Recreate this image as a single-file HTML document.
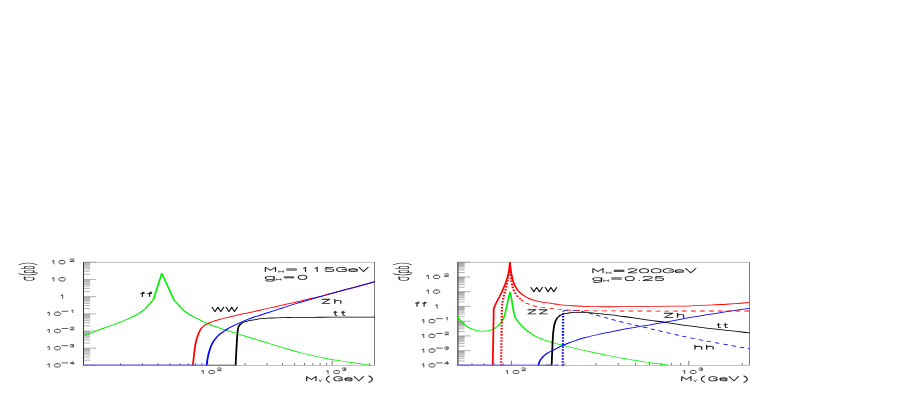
<!DOCTYPE html>
<html><head><meta charset="utf-8"><title>cross sections</title>
<style>html,body{margin:0;padding:0;background:#fff;font-family:"Liberation Sans",sans-serif;overflow:hidden;}svg{display:block;}text{font-family:"Liberation Sans",sans-serif;}</style>
</head><body>
<svg width="899" height="409" viewBox="0 0 899 409">
<rect x="0" y="0" width="899" height="409" fill="#fff"/>
<g transform="scale(1,0.4500)">
<path d="M83.50 812.00 H96.20 M83.50 800.49 H90.20 M83.50 793.76 H90.20 M83.50 788.99 H90.20 M83.50 785.28 H90.20 M83.50 782.26 H90.20 M83.50 779.70 H90.20 M83.50 777.48 H90.20 M83.50 775.53 H90.20 M83.50 773.78 H96.20 M83.50 762.27 H90.20 M83.50 755.54 H90.20 M83.50 750.77 H90.20 M83.50 747.06 H90.20 M83.50 744.04 H90.20 M83.50 741.48 H90.20 M83.50 739.26 H90.20 M83.50 737.30 H90.20 M83.50 735.56 H96.20 M83.50 724.05 H90.20 M83.50 717.32 H90.20 M83.50 712.54 H90.20 M83.50 708.84 H90.20 M83.50 705.81 H90.20 M83.50 703.25 H90.20 M83.50 701.04 H90.20 M83.50 699.08 H90.20 M83.50 697.33 H96.20 M83.50 685.83 H90.20 M83.50 679.10 H90.20 M83.50 674.32 H90.20 M83.50 670.62 H90.20 M83.50 667.59 H90.20 M83.50 665.03 H90.20 M83.50 662.82 H90.20 M83.50 660.86 H90.20 M83.50 659.11 H96.20 M83.50 647.61 H90.20 M83.50 640.87 H90.20 M83.50 636.10 H90.20 M83.50 632.39 H90.20 M83.50 629.37 H90.20 M83.50 626.81 H90.20 M83.50 624.59 H90.20 M83.50 622.64 H90.20 M83.50 620.89 H96.20 M83.50 609.38 H90.20 M83.50 602.65 H90.20 M83.50 597.88 H90.20 M83.50 594.17 H90.20 M83.50 591.15 H90.20 M83.50 588.59 H90.20 M83.50 586.37 H90.20 M83.50 584.42 H90.20 M83.50 582.67 H96.20 " fill="none" stroke="#555" stroke-width="0.62"/>
<path d="M207.60 812.00 V801.78 M332.20 812.00 V801.78 M120.51 812.00 V806.67 M142.45 812.00 V806.67 M158.02 812.00 V806.67 M170.09 812.00 V806.67 M179.96 812.00 V806.67 M188.30 812.00 V806.67 M195.53 812.00 V806.67 M201.90 812.00 V806.67 M245.11 812.00 V806.67 M267.05 812.00 V806.67 M282.62 812.00 V806.67 M294.69 812.00 V806.67 M304.56 812.00 V806.67 M312.90 812.00 V806.67 M320.13 812.00 V806.67 M326.50 812.00 V806.67 M369.71 812.00 V806.67 " fill="none" stroke="#222" stroke-width="0.85"/>
<rect x="83.50" y="582.67" width="291.00" height="229.33" fill="none" stroke="#7c7c7c" stroke-width="1.0"/>
<path d="M83.50 582.67 V812.00" fill="none" stroke="#1c1c1c" stroke-width="1.0"/>
<path d="M235.60 812.89 C235.93 798.22 235.93 793.93 236.60 768.89 C237.27 743.85 237.00 751.70 237.60 737.78 C238.20 723.85 238.13 730.67 238.40 727.11 L238.40 727.11 C238.87 725.48 238.60 725.26 239.80 722.22 C241.00 719.19 240.27 720.37 242.00 718.00 C243.73 715.63 242.67 716.89 245.00 715.11 C247.33 713.33 246.00 714.15 249.00 712.67 C252.00 711.19 249.67 712.15 254.00 710.67 C258.33 709.19 256.00 709.56 262.00 708.22 C268.00 706.89 262.67 707.56 272.00 706.67 C281.33 705.78 276.67 706.07 290.00 705.56 C303.33 705.04 295.33 705.33 312.00 705.11 C328.67 704.89 319.00 704.96 340.00 704.89 C361.00 704.81 363.33 704.89 375.00 704.89" fill="none" stroke="#000" stroke-width="1.80" stroke-linejoin="round" stroke-linecap="butt"/>
<path d="M83.50 746.44 C86.33 744.07 85.93 744.52 92.00 739.33 C98.07 734.15 95.03 736.37 101.70 730.89 C108.37 725.41 105.33 728.37 112.00 722.89 C118.67 717.41 115.67 719.93 121.70 714.44 C127.73 708.96 124.67 712.07 130.10 706.44 C135.53 700.81 132.97 704.22 138.00 697.56 C143.03 690.89 142.80 690.15 145.20 686.44 L145.20 686.44 L153.40 665.78 L153.40 665.78 L161.80 607.56 L161.80 607.56 L174.30 668.22 L174.30 668.22 L183.30 689.33 L183.30 689.33 C185.20 692.37 184.77 692.67 189.00 698.44 C193.23 704.22 191.67 701.78 196.00 706.67 C200.33 711.56 197.83 708.74 202.00 713.11 C206.17 717.48 204.17 715.70 208.50 719.78 C212.83 723.85 210.57 721.63 215.00 725.33 C219.43 729.04 216.80 727.19 221.80 730.89 C226.80 734.59 222.27 731.11 230.00 736.44 C237.73 741.78 234.53 739.70 245.00 746.89 C255.47 754.07 250.40 750.52 261.40 758.00 C272.40 765.48 266.90 761.93 278.00 769.33 C289.10 776.74 283.70 773.56 294.70 780.22 C305.70 786.89 299.87 783.63 311.00 789.33 C322.13 795.04 318.10 793.04 328.10 797.33 C338.10 801.63 332.67 799.26 341.00 802.22 C349.33 805.19 346.10 803.93 353.10 806.22 C360.10 808.52 356.20 807.26 362.00 809.11 C367.80 810.96 367.67 810.89 370.50 811.78" fill="none" stroke="#00ee00" stroke-width="1.70" stroke-linejoin="round" stroke-linecap="butt"/>
<path d="M192.80 812.89 C193.17 805.63 193.13 805.48 193.90 791.11 C194.67 776.74 194.30 781.26 195.10 769.78 C195.90 758.30 195.47 764.22 196.30 756.67 C197.13 749.11 196.63 753.41 197.60 747.11 C198.57 740.81 198.07 743.19 199.20 737.78 C200.33 732.37 199.57 735.19 201.00 730.89 C202.43 726.59 201.30 728.74 203.50 724.89 C205.70 721.04 204.60 722.67 207.60 719.33 C210.60 716.00 208.87 717.78 212.50 714.89 C216.13 712.00 213.33 713.85 218.50 710.67 C223.67 707.48 219.50 709.85 228.00 705.33 C236.50 700.81 232.87 702.74 244.00 697.11 C255.13 691.48 250.07 694.07 261.40 688.44 C272.73 682.81 266.90 685.78 278.00 680.22 C289.10 674.67 284.70 676.89 294.70 671.78 C304.70 666.67 299.10 669.56 308.00 664.89 C316.90 660.22 310.73 663.78 321.40 657.78 C332.07 651.78 327.80 654.07 340.00 646.89 C352.20 639.70 346.33 643.19 358.00 636.22 C369.67 629.26 369.33 629.41 375.00 626.00" fill="none" stroke="#ff0000" stroke-width="1.80" stroke-linejoin="round" stroke-linecap="butt"/>
<path d="M206.60 812.89 C207.00 806.74 206.90 805.11 207.80 794.44 C208.70 783.78 208.30 788.81 209.30 780.89 C210.30 772.96 209.67 777.04 210.80 770.67 C211.93 764.30 211.20 767.63 212.70 761.78 C214.20 755.93 213.37 758.59 215.30 753.11 C217.23 747.63 216.33 749.93 218.50 745.33 C220.67 740.74 219.57 743.04 221.80 739.33 C224.03 735.63 222.47 738.00 225.20 734.22 C227.93 730.44 225.07 733.70 230.00 728.00 C234.93 722.30 232.87 724.15 240.00 717.11 C247.13 710.07 244.73 712.37 251.40 706.89 C258.07 701.41 253.90 705.11 260.00 700.67 C266.10 696.22 262.37 698.89 269.70 693.56 C277.03 688.22 273.67 690.67 282.00 684.67 C290.33 678.67 286.03 681.41 294.70 675.56 C303.37 669.70 299.10 672.74 308.00 667.11 C316.90 661.48 310.73 665.33 321.40 658.67 C332.07 652.00 327.80 654.59 340.00 647.11 C352.20 639.63 346.33 643.26 358.00 636.22 C369.67 629.19 369.33 629.41 375.00 626.00" fill="none" stroke="#0000ff" stroke-width="1.80" stroke-linejoin="round" stroke-linecap="butt"/>
<path d="M457.90 812.00 H470.60 M457.90 802.14 H464.60 M457.90 796.37 H464.60 M457.90 792.28 H464.60 M457.90 789.10 H464.60 M457.90 786.51 H464.60 M457.90 784.31 H464.60 M457.90 782.41 H464.60 M457.90 780.74 H464.60 M457.90 779.24 H470.60 M457.90 769.38 H464.60 M457.90 763.61 H464.60 M457.90 759.51 H464.60 M457.90 756.34 H464.60 M457.90 753.74 H464.60 M457.90 751.55 H464.60 M457.90 749.65 H464.60 M457.90 747.98 H464.60 M457.90 746.48 H470.60 M457.90 736.61 H464.60 M457.90 730.84 H464.60 M457.90 726.75 H464.60 M457.90 723.58 H464.60 M457.90 720.98 H464.60 M457.90 718.79 H464.60 M457.90 716.89 H464.60 M457.90 715.21 H464.60 M457.90 713.71 H470.60 M457.90 703.85 H464.60 M457.90 698.08 H464.60 M457.90 693.99 H464.60 M457.90 690.81 H464.60 M457.90 688.22 H464.60 M457.90 686.03 H464.60 M457.90 684.13 H464.60 M457.90 682.45 H464.60 M457.90 680.95 H470.60 M457.90 671.09 H464.60 M457.90 665.32 H464.60 M457.90 661.23 H464.60 M457.90 658.05 H464.60 M457.90 655.46 H464.60 M457.90 653.27 H464.60 M457.90 651.37 H464.60 M457.90 649.69 H464.60 M457.90 648.19 H470.60 M457.90 638.33 H464.60 M457.90 632.56 H464.60 M457.90 628.47 H464.60 M457.90 625.29 H464.60 M457.90 622.70 H464.60 M457.90 620.50 H464.60 M457.90 618.60 H464.60 M457.90 616.93 H464.60 M457.90 615.43 H470.60 M457.90 605.57 H464.60 M457.90 599.80 H464.60 M457.90 595.70 H464.60 M457.90 592.53 H464.60 M457.90 589.93 H464.60 M457.90 587.74 H464.60 M457.90 585.84 H464.60 M457.90 584.17 H464.60 M457.90 582.67 H470.60 " fill="none" stroke="#555" stroke-width="0.62"/>
<path d="M511.40 812.00 V801.78 M688.80 812.00 V801.78 M472.04 812.00 V806.67 M483.92 812.00 V806.67 M494.21 812.00 V806.67 M503.28 812.00 V806.67 M564.80 812.00 V806.67 M596.04 812.00 V806.67 M618.21 812.00 V806.67 M635.40 812.00 V806.67 M649.44 812.00 V806.67 M661.32 812.00 V806.67 M671.61 812.00 V806.67 M680.68 812.00 V806.67 M742.20 812.00 V806.67 " fill="none" stroke="#222" stroke-width="0.85"/>
<rect x="457.90" y="582.67" width="291.60" height="229.33" fill="none" stroke="#7c7c7c" stroke-width="1.0"/>
<path d="M457.90 582.67 V812.00" fill="none" stroke="#303030" stroke-width="1.0"/>
<path d="M457.20 702.44 C458.13 705.33 457.80 705.19 460.00 711.11 C462.20 717.04 461.13 715.04 463.80 720.22 C466.47 725.41 465.07 722.81 468.00 726.67 C470.93 730.52 469.43 729.04 472.60 731.78 C475.77 734.52 474.07 733.48 477.50 734.89 C480.93 736.30 479.57 735.93 482.90 736.00 C486.23 736.07 484.57 736.22 487.50 735.11 C490.43 734.00 489.03 734.89 491.70 732.67 C494.37 730.44 493.07 732.00 495.50 728.44 C497.93 724.89 496.90 726.74 499.00 722.00 C501.10 717.26 500.10 720.22 501.80 714.22 C503.50 708.22 502.60 713.93 504.10 704.00 C505.60 694.07 504.93 697.26 506.30 684.44 C507.67 671.63 507.57 671.85 508.20 665.56 L508.20 665.56 L510.00 648.89 L510.00 648.89 L511.70 665.56 L511.70 665.56 C512.13 671.85 512.03 672.74 513.00 684.44 C513.97 696.15 513.40 692.15 514.60 700.67 C515.80 709.19 514.80 703.56 516.60 710.00 C518.40 716.44 517.07 712.74 520.00 720.00 C522.93 727.26 522.07 725.26 525.40 731.78 C528.73 738.30 526.60 734.44 530.00 739.56 C533.40 744.67 532.10 742.89 535.60 747.11 C539.10 751.33 537.07 749.11 540.50 752.22 C543.93 755.33 541.07 752.96 545.90 756.44 C550.73 759.93 549.30 759.04 555.00 762.67 C560.70 766.30 555.33 763.04 563.00 767.33 C570.67 771.63 567.70 770.15 578.00 775.56 C588.30 780.96 583.90 778.74 593.90 783.56 C603.90 788.37 598.20 785.78 608.00 790.00 C617.80 794.22 614.63 792.74 623.30 796.22 C631.97 799.70 626.77 797.70 634.00 800.44 C641.23 803.19 637.67 801.93 645.00 804.44 C652.33 806.96 648.50 805.85 656.00 808.00 C663.50 810.15 663.67 809.93 667.50 810.89" fill="none" stroke="#00ee00" stroke-width="1.70" stroke-linejoin="round" stroke-linecap="butt"/>
<path d="M551.60 812.89 C551.83 801.19 551.87 799.11 552.30 777.78 C552.73 756.44 552.43 764.44 552.90 748.89 C553.37 733.33 553.07 741.19 553.70 731.11 C554.33 721.04 553.87 725.85 554.80 718.67 C555.73 711.48 555.20 714.59 556.50 709.56 C557.80 704.52 556.87 707.11 558.70 703.56 C560.53 700.00 559.40 701.33 562.00 698.89 C564.60 696.44 563.17 697.63 566.50 696.22 C569.83 694.81 568.07 695.33 572.00 694.67 C575.93 694.00 573.63 694.22 578.30 694.22 C582.97 694.22 580.80 694.15 586.00 694.67 C591.20 695.19 586.57 694.30 593.90 695.78 C601.23 697.26 598.20 696.59 608.00 699.11 C617.80 701.63 610.97 699.63 623.30 703.33 C635.63 707.04 630.47 705.70 645.00 710.22 C659.53 714.74 650.63 711.85 666.90 716.89 C683.17 721.93 675.87 720.07 693.80 725.33 C711.73 730.59 702.20 727.93 720.70 732.67 C739.20 737.41 739.77 737.26 749.30 739.56" fill="none" stroke="#000" stroke-width="1.80" stroke-linejoin="round" stroke-linecap="butt"/>
<path d="M562.70 812.89 L563.20 691.11" fill="none" stroke="#0000ff" stroke-width="2.20" stroke-linejoin="round" stroke-linecap="butt" stroke-dasharray="3.4 3.3"/>
<path d="M563.50 690.00 C566.33 689.93 566.43 689.33 572.00 689.78 C577.57 690.22 573.87 688.96 580.20 691.33 C586.53 693.70 583.17 692.37 591.00 696.89 C598.83 701.41 592.93 698.44 603.70 704.89 C614.47 711.33 609.53 708.67 623.30 716.22 C637.07 723.78 630.47 719.93 645.00 727.56 C659.53 735.19 650.63 730.89 666.90 739.11 C683.17 747.33 675.87 744.07 693.80 752.22 C711.73 760.37 702.20 756.00 720.70 763.56 C739.20 771.11 739.77 771.11 749.30 774.89" fill="none" stroke="#0000ff" stroke-width="1.70" stroke-linejoin="round" stroke-linecap="butt" stroke-dasharray="4.7 4.2"/>
<path d="M538.40 812.89 C538.80 809.70 538.57 808.67 539.60 803.33 C540.63 798.00 540.17 800.81 541.50 796.89 C542.83 792.96 542.13 794.81 543.60 791.56 C545.07 788.30 544.10 790.00 545.90 787.11 C547.70 784.22 546.70 785.70 549.00 782.89 C551.30 780.07 550.13 781.63 552.80 778.67 C555.47 775.70 553.60 777.78 557.00 774.00 C560.40 770.22 557.67 772.37 563.00 767.33 C568.33 762.30 565.97 764.37 573.00 758.89 C580.03 753.41 575.77 756.07 584.10 750.89 C592.43 745.70 588.20 748.22 598.00 743.33 C607.80 738.44 603.17 740.81 613.50 736.22 C623.83 731.63 618.50 733.78 629.00 729.56 C639.50 725.33 632.37 728.37 645.00 723.56 C657.63 718.74 650.63 721.56 666.90 715.11 C683.17 708.67 675.87 711.04 693.80 704.22 C711.73 697.41 702.20 701.04 720.70 694.67 C739.20 688.30 739.77 688.30 749.30 685.11" fill="none" stroke="#0000ff" stroke-width="1.80" stroke-linejoin="round" stroke-linecap="butt"/>
<path d="M501.10 812.89 L501.90 687.78 L501.90 687.78 C502.07 682.96 501.83 682.59 502.40 673.33 C502.97 664.07 502.73 668.44 503.60 660.00 C504.47 651.56 504.03 656.15 505.00 648.00 C505.97 639.85 505.63 644.15 506.50 635.56 C507.37 626.96 506.90 631.48 507.60 622.22 C508.30 612.96 507.83 618.15 508.60 607.78 C509.37 597.41 509.47 596.67 509.90 591.11 L509.90 591.11 C510.23 598.52 510.30 600.74 510.90 613.33 C511.50 625.93 511.13 620.74 511.70 628.89 C512.27 637.04 511.90 632.22 512.60 637.78 C513.30 643.33 512.90 640.81 513.80 645.56 C514.70 650.30 514.20 648.00 515.30 652.00 C516.40 656.00 515.93 654.37 517.10 657.56 C518.27 660.74 517.67 659.11 518.80 661.56 C519.93 664.00 519.93 663.78 520.50 664.89" fill="none" stroke="#ff0000" stroke-width="2.20" stroke-linejoin="round" stroke-linecap="butt" stroke-dasharray="3.4 3.3"/>
<path d="M521.00 665.78 C521.93 667.33 521.47 667.33 523.80 670.44 C526.13 673.56 524.13 671.70 528.00 675.11 C531.87 678.52 530.43 677.93 535.40 680.67 C540.37 683.41 538.70 682.00 542.90 683.33 C547.10 684.67 543.97 683.70 548.00 684.67 C552.03 685.63 549.47 684.96 555.00 686.22 C560.53 687.48 556.27 687.19 564.60 688.44 C572.93 689.70 566.97 689.19 580.00 690.00 C593.03 690.81 582.03 690.52 603.70 690.89 C625.37 691.26 612.90 691.04 645.00 691.11 C677.10 691.19 665.23 691.11 700.00 691.11 C734.77 691.11 732.87 691.11 749.30 691.11" fill="none" stroke="#ff0000" stroke-width="1.70" stroke-linejoin="round" stroke-linecap="butt" stroke-dasharray="4.7 4.2"/>
<path d="M492.70 812.89 C492.90 790.07 492.97 786.59 493.30 744.44 C493.63 702.30 493.57 705.78 493.70 686.44 L493.70 686.44 C494.47 682.37 494.37 682.00 496.00 674.22 C497.63 666.44 496.73 671.26 498.60 663.11 C500.47 654.96 499.70 658.81 501.60 649.78 C503.50 640.74 502.73 644.44 504.30 636.00 C505.87 627.56 505.17 631.56 506.30 624.44 C507.43 617.33 506.87 621.33 507.70 614.67 C508.53 608.00 508.20 611.56 508.80 604.44 C509.40 597.33 509.13 600.59 509.50 593.33 C509.87 586.07 509.77 586.22 509.90 582.67 L509.90 582.67 C510.07 586.22 510.00 586.07 510.40 593.33 C510.80 600.59 510.57 597.33 511.10 604.44 C511.63 611.56 511.37 608.37 512.00 614.67 C512.63 620.96 512.17 617.41 513.00 623.33 C513.83 629.26 513.40 626.89 514.50 632.44 C515.60 638.00 514.93 635.11 516.30 640.00 C517.67 644.89 516.93 642.81 518.60 647.11 C520.27 651.41 519.37 649.33 521.30 652.89 C523.23 656.44 522.18 654.70 524.40 657.78 C526.62 660.85 525.58 659.59 527.95 662.11 C530.32 664.63 529.02 663.37 531.50 665.33 C533.98 667.30 531.60 665.85 535.40 668.00 C539.20 670.15 538.70 670.07 542.90 671.78 C547.10 673.48 543.97 671.85 548.00 673.11 C552.03 674.37 549.47 673.85 555.00 675.56 C560.53 677.26 556.93 676.74 564.60 678.22 C572.27 679.70 568.23 678.96 578.00 680.00 C587.77 681.04 579.90 680.81 593.90 681.33 C607.90 681.85 602.97 681.70 620.00 681.56 C637.03 681.41 628.33 681.26 645.00 680.89 C661.67 680.52 653.73 680.96 670.00 680.44 C686.27 679.93 676.90 680.59 693.80 679.33 C710.70 678.07 706.97 678.22 720.70 676.67 C734.43 675.11 725.47 676.22 735.00 674.67 C744.53 673.11 744.53 672.89 749.30 672.00" fill="none" stroke="#ff0000" stroke-width="1.80" stroke-linejoin="round" stroke-linecap="butt"/>
</g>
<g transform="scale(1,0.6500)">
<path d="M 47.60 560.58 L 49.25 559.40 L 49.25 564.75 M 57.45 559.40 C 59.34 559.40 60.60 560.47 60.60 562.08 C 60.60 563.68 59.34 564.75 57.45 564.75 C 55.56 564.75 54.30 563.68 54.30 562.08 C 54.30 560.47 55.56 559.40 57.45 559.40" fill="none" stroke="#1a1a1a" stroke-width="0.95" stroke-linecap="round" stroke-linejoin="round"/>
<path d="M 61.96 558.31 L 67.84 558.31 M 73.15 560.33 L 73.15 556.28 L 70.16 559.12 L 74.14 559.12" fill="none" stroke="#1a1a1a" stroke-width="0.85" stroke-linecap="round" stroke-linejoin="round"/>
<path d="M 47.60 534.12 L 49.25 532.94 L 49.25 538.29 M 57.45 532.94 C 59.34 532.94 60.60 534.01 60.60 535.62 C 60.60 537.22 59.34 538.29 57.45 538.29 C 55.56 538.29 54.30 537.22 54.30 535.62 C 54.30 534.01 55.56 532.94 57.45 532.94" fill="none" stroke="#1a1a1a" stroke-width="0.95" stroke-linecap="round" stroke-linejoin="round"/>
<path d="M 61.96 531.85 L 67.84 531.85 M 70.16 530.55 C 70.56 530.02 71.27 529.82 72.15 529.82 C 73.34 529.82 74.02 530.23 74.02 530.79 C 74.02 531.36 73.34 531.72 71.83 531.72 C 73.42 531.72 74.14 532.17 74.14 532.78 C 74.14 533.47 73.34 533.87 72.15 533.87 C 71.15 533.87 70.48 533.63 70.16 533.06" fill="none" stroke="#1a1a1a" stroke-width="0.85" stroke-linecap="round" stroke-linejoin="round"/>
<path d="M 47.60 507.65 L 49.25 506.48 L 49.25 511.83 M 57.45 506.48 C 59.34 506.48 60.60 507.55 60.60 509.15 C 60.60 510.76 59.34 511.83 57.45 511.83 C 55.56 511.83 54.30 510.76 54.30 509.15 C 54.30 507.55 55.56 506.48 57.45 506.48" fill="none" stroke="#1a1a1a" stroke-width="0.95" stroke-linecap="round" stroke-linejoin="round"/>
<path d="M 61.96 505.38 L 67.84 505.38 M 70.16 504.33 C 70.24 503.68 70.96 503.36 72.15 503.36 C 73.34 503.36 74.14 503.76 74.14 504.45 C 74.14 505.14 73.34 505.55 72.15 506.11 C 70.96 506.68 70.16 507.01 70.16 507.41 L 74.14 507.41" fill="none" stroke="#1a1a1a" stroke-width="0.85" stroke-linecap="round" stroke-linejoin="round"/>
<path d="M 47.60 481.19 L 49.25 480.01 L 49.25 485.37 M 57.45 480.01 C 59.34 480.01 60.60 481.09 60.60 482.69 C 60.60 484.30 59.34 485.37 57.45 485.37 C 55.56 485.37 54.30 484.30 54.30 482.69 C 54.30 481.09 55.56 480.01 57.45 480.01" fill="none" stroke="#1a1a1a" stroke-width="0.95" stroke-linecap="round" stroke-linejoin="round"/>
<path d="M 61.96 478.92 L 67.84 478.92 M 71.56 477.79 L 72.82 476.90 L 72.82 480.95" fill="none" stroke="#1a1a1a" stroke-width="0.85" stroke-linecap="round" stroke-linejoin="round"/>
<path d="M 61.00 454.73 L 62.65 453.55 L 62.65 458.91" fill="none" stroke="#1a1a1a" stroke-width="0.95" stroke-linecap="round" stroke-linejoin="round"/>
<path d="M 52.20 428.27 L 53.85 427.09 L 53.85 432.45 M 62.05 427.09 C 64.00 427.09 65.30 428.16 65.30 429.77 C 65.30 431.38 64.00 432.45 62.05 432.45 C 60.10 432.45 58.80 431.38 58.80 429.77 C 58.80 428.16 60.10 427.09 62.05 427.09" fill="none" stroke="#1a1a1a" stroke-width="0.95" stroke-linecap="round" stroke-linejoin="round"/>
<path d="M 52.20 401.81 L 53.85 400.63 L 53.85 405.99 M 62.05 400.63 C 64.00 400.63 65.30 401.70 65.30 403.31 C 65.30 404.91 64.00 405.99 62.05 405.99 C 60.10 405.99 58.80 404.91 58.80 403.31 C 58.80 401.70 60.10 400.63 62.05 400.63" fill="none" stroke="#1a1a1a" stroke-width="0.95" stroke-linecap="round" stroke-linejoin="round"/>
<path d="M 69.86 399.41 C 69.94 398.76 70.72 398.44 72.00 398.44 C 73.28 398.44 74.14 398.84 74.14 399.53 C 74.14 400.22 73.28 400.62 72.00 401.19 C 70.72 401.76 69.86 402.08 69.86 402.49 L 74.14 402.49" fill="none" stroke="#1a1a1a" stroke-width="0.85" stroke-linecap="round" stroke-linejoin="round"/>
<path d="M 422.10 560.58 L 423.75 559.40 L 423.75 564.75 M 431.95 559.40 C 433.84 559.40 435.10 560.47 435.10 562.08 C 435.10 563.68 433.84 564.75 431.95 564.75 C 430.06 564.75 428.80 563.68 428.80 562.08 C 428.80 560.47 430.06 559.40 431.95 559.40" fill="none" stroke="#1a1a1a" stroke-width="0.95" stroke-linecap="round" stroke-linejoin="round"/>
<path d="M 436.46 558.31 L 442.34 558.31 M 447.65 560.33 L 447.65 556.28 L 444.66 559.12 L 448.64 559.12" fill="none" stroke="#1a1a1a" stroke-width="0.85" stroke-linecap="round" stroke-linejoin="round"/>
<path d="M 422.10 537.90 L 423.75 536.72 L 423.75 542.07 M 431.95 536.72 C 433.84 536.72 435.10 537.79 435.10 539.40 C 435.10 541.00 433.84 542.07 431.95 542.07 C 430.06 542.07 428.80 541.00 428.80 539.40 C 428.80 537.79 430.06 536.72 431.95 536.72" fill="none" stroke="#1a1a1a" stroke-width="0.95" stroke-linecap="round" stroke-linejoin="round"/>
<path d="M 436.46 535.63 L 442.34 535.63 M 444.66 534.33 C 445.06 533.80 445.77 533.60 446.65 533.60 C 447.84 533.60 448.52 534.01 448.52 534.57 C 448.52 535.14 447.84 535.50 446.33 535.50 C 447.92 535.50 448.64 535.95 448.64 536.56 C 448.64 537.25 447.84 537.65 446.65 537.65 C 445.65 537.65 444.98 537.41 444.66 536.84" fill="none" stroke="#1a1a1a" stroke-width="0.85" stroke-linecap="round" stroke-linejoin="round"/>
<path d="M 422.10 515.21 L 423.75 514.04 L 423.75 519.39 M 431.95 514.04 C 433.84 514.04 435.10 515.11 435.10 516.71 C 435.10 518.32 433.84 519.39 431.95 519.39 C 430.06 519.39 428.80 518.32 428.80 516.71 C 428.80 515.11 430.06 514.04 431.95 514.04" fill="none" stroke="#1a1a1a" stroke-width="0.95" stroke-linecap="round" stroke-linejoin="round"/>
<path d="M 436.46 512.95 L 442.34 512.95 M 444.66 511.89 C 444.74 511.24 445.46 510.92 446.65 510.92 C 447.84 510.92 448.64 511.32 448.64 512.01 C 448.64 512.70 447.84 513.11 446.65 513.67 C 445.46 514.24 444.66 514.57 444.66 514.97 L 448.64 514.97" fill="none" stroke="#1a1a1a" stroke-width="0.85" stroke-linecap="round" stroke-linejoin="round"/>
<path d="M 422.10 492.53 L 423.75 491.36 L 423.75 496.71 M 431.95 491.36 C 433.84 491.36 435.10 492.43 435.10 494.03 C 435.10 495.64 433.84 496.71 431.95 496.71 C 430.06 496.71 428.80 495.64 428.80 494.03 C 428.80 492.43 430.06 491.36 431.95 491.36" fill="none" stroke="#1a1a1a" stroke-width="0.95" stroke-linecap="round" stroke-linejoin="round"/>
<path d="M 436.46 490.26 L 442.34 490.26 M 446.06 489.13 L 447.32 488.24 L 447.32 492.29" fill="none" stroke="#1a1a1a" stroke-width="0.85" stroke-linecap="round" stroke-linejoin="round"/>
<path d="M 435.50 469.85 L 437.15 468.67 L 437.15 474.03" fill="none" stroke="#1a1a1a" stroke-width="0.95" stroke-linecap="round" stroke-linejoin="round"/>
<path d="M 426.70 447.17 L 428.35 445.99 L 428.35 451.35 M 436.55 445.99 C 438.50 445.99 439.80 447.06 439.80 448.67 C 439.80 450.28 438.50 451.35 436.55 451.35 C 434.60 451.35 433.30 450.28 433.30 448.67 C 433.30 447.06 434.60 445.99 436.55 445.99" fill="none" stroke="#1a1a1a" stroke-width="0.95" stroke-linecap="round" stroke-linejoin="round"/>
<path d="M 426.70 424.49 L 428.35 423.31 L 428.35 428.67 M 436.55 423.31 C 438.50 423.31 439.80 424.38 439.80 425.99 C 439.80 427.60 438.50 428.67 436.55 428.67 C 434.60 428.67 433.30 427.60 433.30 425.99 C 433.30 424.38 434.60 423.31 436.55 423.31" fill="none" stroke="#1a1a1a" stroke-width="0.95" stroke-linecap="round" stroke-linejoin="round"/>
<path d="M 444.36 422.09 C 444.44 421.44 445.22 421.12 446.50 421.12 C 447.78 421.12 448.64 421.52 448.64 422.21 C 448.64 422.90 447.78 423.30 446.50 423.87 C 445.22 424.44 444.36 424.76 444.36 425.17 L 448.64 425.17" fill="none" stroke="#1a1a1a" stroke-width="0.85" stroke-linecap="round" stroke-linejoin="round"/>
<path d="M 201.70 571.01 L 203.20 569.94 L 203.20 574.83 M 211.70 569.94 C 213.56 569.94 214.80 570.92 214.80 572.38 C 214.80 573.85 213.56 574.83 211.70 574.83 C 209.84 574.83 208.60 573.85 208.60 572.38 C 208.60 570.92 209.84 569.94 211.70 569.94" fill="none" stroke="#1a1a1a" stroke-width="0.95" stroke-linecap="round" stroke-linejoin="round"/>
<path d="M 217.46 566.91 C 217.53 566.23 218.22 565.90 219.35 565.90 C 220.48 565.90 221.24 566.32 221.24 567.03 C 221.24 567.75 220.48 568.17 219.35 568.76 C 218.22 569.35 217.46 569.68 217.46 570.10 L 221.24 570.10" fill="none" stroke="#1a1a1a" stroke-width="0.85" stroke-linecap="round" stroke-linejoin="round"/>
<path d="M 326.60 571.01 L 328.10 569.94 L 328.10 574.83 M 336.60 569.94 C 338.46 569.94 339.70 570.92 339.70 572.38 C 339.70 573.85 338.46 574.83 336.60 574.83 C 334.74 574.83 333.50 573.85 333.50 572.38 C 333.50 570.92 334.74 569.94 336.60 569.94" fill="none" stroke="#1a1a1a" stroke-width="0.95" stroke-linecap="round" stroke-linejoin="round"/>
<path d="M 342.36 566.65 C 342.74 566.11 343.42 565.90 344.25 565.90 C 345.38 565.90 346.03 566.32 346.03 566.91 C 346.03 567.50 345.38 567.87 343.95 567.87 C 345.46 567.87 346.14 568.34 346.14 568.97 C 346.14 569.68 345.38 570.10 344.25 570.10 C 343.30 570.10 342.66 569.85 342.36 569.26" fill="none" stroke="#1a1a1a" stroke-width="0.85" stroke-linecap="round" stroke-linejoin="round"/>
<path d="M 506.00 571.01 L 507.50 569.94 L 507.50 574.83 M 516.00 569.94 C 517.86 569.94 519.10 570.92 519.10 572.38 C 519.10 573.85 517.86 574.83 516.00 574.83 C 514.14 574.83 512.90 573.85 512.90 572.38 C 512.90 570.92 514.14 569.94 516.00 569.94" fill="none" stroke="#1a1a1a" stroke-width="0.95" stroke-linecap="round" stroke-linejoin="round"/>
<path d="M 521.76 566.91 C 521.83 566.23 522.52 565.90 523.65 565.90 C 524.78 565.90 525.54 566.32 525.54 567.03 C 525.54 567.75 524.78 568.17 523.65 568.76 C 522.52 569.35 521.76 569.68 521.76 570.10 L 525.54 570.10" fill="none" stroke="#1a1a1a" stroke-width="0.85" stroke-linecap="round" stroke-linejoin="round"/>
<path d="M 683.20 571.01 L 684.70 569.94 L 684.70 574.83 M 693.20 569.94 C 695.06 569.94 696.30 570.92 696.30 572.38 C 696.30 573.85 695.06 574.83 693.20 574.83 C 691.34 574.83 690.10 573.85 690.10 572.38 C 690.10 570.92 691.34 569.94 693.20 569.94" fill="none" stroke="#1a1a1a" stroke-width="0.95" stroke-linecap="round" stroke-linejoin="round"/>
<path d="M 698.96 566.65 C 699.34 566.11 700.02 565.90 700.85 565.90 C 701.98 565.90 702.63 566.32 702.63 566.91 C 702.63 567.50 701.98 567.87 700.55 567.87 C 702.06 567.87 702.74 568.34 702.74 568.97 C 702.74 569.68 701.98 570.10 700.85 570.10 C 699.90 570.10 699.26 569.85 698.96 569.26" fill="none" stroke="#1a1a1a" stroke-width="0.85" stroke-linecap="round" stroke-linejoin="round"/>
<path d="M 306.70 585.96 L 306.70 579.27 L 311.35 583.95 L 316.00 579.27 L 316.00 585.96 M 341.86 580.88 C 341.20 579.81 339.87 579.27 338.05 579.27 C 335.56 579.27 333.90 580.61 333.90 582.62 C 333.90 584.62 335.56 585.96 338.05 585.96 C 340.21 585.96 341.86 585.29 342.20 583.95 L 342.20 582.88 L 338.46 582.88 M 345.00 583.42 L 352.00 583.42 C 352.00 581.95 350.60 581.14 348.50 581.14 C 346.40 581.14 345.00 582.08 345.00 583.55 C 345.00 585.02 346.40 585.96 348.50 585.96 C 350.25 585.96 351.30 585.56 352.00 584.82 M 354.30 579.27 L 358.90 585.96 L 363.50 579.27" fill="none" stroke="#1a1a1a" stroke-width="1.20" stroke-linecap="round" stroke-linejoin="round"/>
<path d="M 329.52 578.24 C 327.25 579.92 326.28 581.61 326.28 583.29 C 326.28 584.97 327.25 586.65 329.52 588.33 M 368.88 578.24 C 371.29 579.92 372.32 581.61 372.32 583.29 C 372.32 584.97 371.29 586.65 368.88 588.33" fill="none" stroke="#1a1a1a" stroke-width="1.15" stroke-linecap="round" stroke-linejoin="round"/>
<path d="M 319.04 584.34 L 320.25 587.51 L 321.46 584.34" fill="none" stroke="#1a1a1a" stroke-width="0.80" stroke-linecap="round" stroke-linejoin="round"/>
<path d="M 681.70 585.96 L 681.70 579.27 L 686.35 583.95 L 691.00 579.27 L 691.00 585.96 M 716.86 580.88 C 716.20 579.81 714.87 579.27 713.05 579.27 C 710.56 579.27 708.90 580.61 708.90 582.62 C 708.90 584.62 710.56 585.96 713.05 585.96 C 715.21 585.96 716.86 585.29 717.20 583.95 L 717.20 582.88 L 713.46 582.88 M 720.00 583.42 L 727.00 583.42 C 727.00 581.95 725.60 581.14 723.50 581.14 C 721.40 581.14 720.00 582.08 720.00 583.55 C 720.00 585.02 721.40 585.96 723.50 585.96 C 725.25 585.96 726.30 585.56 727.00 584.82 M 729.30 579.27 L 733.90 585.96 L 738.50 579.27" fill="none" stroke="#1a1a1a" stroke-width="1.20" stroke-linecap="round" stroke-linejoin="round"/>
<path d="M 704.52 578.24 C 702.25 579.92 701.28 581.61 701.28 583.29 C 701.28 584.97 702.25 586.65 704.52 588.33 M 743.88 578.24 C 746.29 579.92 747.32 581.61 747.32 583.29 C 747.32 584.97 746.29 586.65 743.88 588.33" fill="none" stroke="#1a1a1a" stroke-width="1.15" stroke-linecap="round" stroke-linejoin="round"/>
<path d="M 694.04 584.34 L 695.25 587.51 L 696.46 584.34" fill="none" stroke="#1a1a1a" stroke-width="0.80" stroke-linecap="round" stroke-linejoin="round"/>
<path d="M 265.40 417.80 L 265.40 411.27 L 270.45 415.84 L 275.50 411.27 L 275.50 417.80 M 286.70 413.75 L 296.50 413.75 M 286.70 415.45 L 296.50 415.45 M 303.40 412.71 L 305.50 411.27 L 305.50 417.80 M 315.00 412.71 L 317.17 411.27 L 317.17 417.80 M 333.01 411.27 L 326.14 411.27 L 325.53 414.15 C 326.82 413.69 327.94 413.49 329.40 413.49 C 331.98 413.49 333.70 414.34 333.70 415.65 C 333.70 416.95 331.98 417.80 329.40 417.80 C 327.25 417.80 325.79 417.35 325.10 416.50 M 346.10 412.84 C 345.31 411.80 343.73 411.27 341.55 411.27 C 338.58 411.27 336.60 412.58 336.60 414.54 C 336.60 416.50 338.58 417.80 341.55 417.80 C 344.12 417.80 346.10 417.15 346.50 415.84 L 346.50 414.80 L 342.04 414.80 M 348.80 415.32 L 357.40 415.32 C 357.40 413.89 355.68 413.10 353.10 413.10 C 350.52 413.10 348.80 414.02 348.80 415.45 C 348.80 416.89 350.52 417.80 353.10 417.80 C 355.25 417.80 356.54 417.41 357.40 416.69 M 359.00 411.27 L 363.60 417.80 L 368.20 411.27" fill="none" stroke="#1a1a1a" stroke-width="1.20" stroke-linecap="round" stroke-linejoin="round"/>
<path d="M 278.79 416.60 L 278.79 419.09 M 283.41 416.60 L 283.41 419.09 M 278.79 417.85 L 283.41 417.85" fill="none" stroke="#1a1a1a" stroke-width="0.70" stroke-linecap="round" stroke-linejoin="round"/>
<path d="M 274.10 425.14 L 274.10 430.63 C 274.10 431.83 272.36 432.50 269.75 432.50 C 268.01 432.50 266.71 432.23 265.84 431.76 M 274.10 427.55 C 274.10 426.08 272.36 425.14 269.75 425.14 C 267.14 425.14 265.40 426.08 265.40 427.55 C 265.40 429.02 267.14 429.96 269.75 429.96 C 272.36 429.96 274.10 429.02 274.10 427.55 M 284.20 425.81 L 293.90 425.81 M 284.20 427.55 L 293.90 427.55 M 302.50 423.27 C 305.08 423.27 306.80 424.61 306.80 426.62 C 306.80 428.62 305.08 429.96 302.50 429.96 C 299.92 429.96 298.20 428.62 298.20 426.62 C 298.20 424.61 299.92 423.27 302.50 423.27" fill="none" stroke="#1a1a1a" stroke-width="1.20" stroke-linecap="round" stroke-linejoin="round"/>
<path d="M 276.29 428.76 L 276.29 431.24 M 280.91 428.76 L 280.91 431.24 M 276.29 430.00 L 280.91 430.00" fill="none" stroke="#1a1a1a" stroke-width="0.70" stroke-linecap="round" stroke-linejoin="round"/>
<path d="M 592.90 419.65 L 592.90 413.12 L 597.95 417.69 L 603.00 413.12 L 603.00 419.65 M 614.20 415.60 L 624.00 415.60 M 614.20 417.30 L 624.00 417.30 M 628.40 414.69 C 628.57 413.64 630.06 413.12 632.55 413.12 C 635.04 413.12 636.70 413.77 636.70 414.88 C 636.70 415.99 635.04 416.65 632.55 417.56 C 630.06 418.47 628.40 419.00 628.40 419.65 L 636.70 419.65 M 644.05 413.12 C 646.72 413.12 648.50 414.43 648.50 416.38 C 648.50 418.34 646.72 419.65 644.05 419.65 C 641.38 419.65 639.60 418.34 639.60 416.38 C 639.60 414.43 641.38 413.12 644.05 413.12 M 656.20 413.12 C 659.08 413.12 661.00 414.43 661.00 416.38 C 661.00 418.34 659.08 419.65 656.20 419.65 C 653.32 419.65 651.40 418.34 651.40 416.38 C 651.40 414.43 653.32 413.12 656.20 413.12 M 673.08 414.69 C 672.26 413.64 670.61 413.12 668.35 413.12 C 665.26 413.12 663.20 414.43 663.20 416.38 C 663.20 418.34 665.26 419.65 668.35 419.65 C 671.03 419.65 673.08 419.00 673.50 417.69 L 673.50 416.65 L 668.86 416.65 M 675.10 417.17 L 683.40 417.17 C 683.40 415.73 681.74 414.95 679.25 414.95 C 676.76 414.95 675.10 415.86 675.10 417.30 C 675.10 418.74 676.76 419.65 679.25 419.65 C 681.32 419.65 682.57 419.26 683.40 418.54 M 685.70 413.12 L 690.80 419.65 L 695.90 413.12" fill="none" stroke="#1a1a1a" stroke-width="1.20" stroke-linecap="round" stroke-linejoin="round"/>
<path d="M 606.29 418.45 L 606.29 420.94 M 610.91 418.45 L 610.91 420.94 M 606.29 419.69 L 610.91 419.69" fill="none" stroke="#1a1a1a" stroke-width="0.70" stroke-linecap="round" stroke-linejoin="round"/>
<path d="M 601.60 426.99 L 601.60 432.47 C 601.60 433.68 599.86 434.34 597.25 434.34 C 595.51 434.34 594.21 434.08 593.34 433.61 M 601.60 429.40 C 601.60 427.93 599.86 426.99 597.25 426.99 C 594.64 426.99 592.90 427.93 592.90 429.40 C 592.90 430.87 594.64 431.80 597.25 431.80 C 599.86 431.80 601.60 430.87 601.60 429.40 M 611.70 427.66 L 621.40 427.66 M 611.70 429.40 L 621.40 429.40 M 629.75 425.12 C 632.42 425.12 634.20 426.46 634.20 428.46 C 634.20 430.47 632.42 431.80 629.75 431.80 C 627.08 431.80 625.30 430.47 625.30 428.46 C 625.30 426.46 627.08 425.12 629.75 425.12 M 639.16 431.47 L 639.64 431.47 M 643.30 426.72 C 643.48 425.65 645.10 425.12 647.80 425.12 C 650.50 425.12 652.30 425.79 652.30 426.92 C 652.30 428.06 650.50 428.73 647.80 429.66 C 645.10 430.60 643.30 431.14 643.30 431.80 L 652.30 431.80 M 662.83 425.12 L 656.20 425.12 L 655.62 428.06 C 656.86 427.59 657.94 427.39 659.35 427.39 C 661.84 427.39 663.50 428.26 663.50 429.60 C 663.50 430.93 661.84 431.80 659.35 431.80 C 657.28 431.80 655.87 431.34 655.20 430.47" fill="none" stroke="#1a1a1a" stroke-width="1.20" stroke-linecap="round" stroke-linejoin="round"/>
<path d="M 603.79 430.60 L 603.79 433.09 M 608.41 430.60 L 608.41 433.09 M 603.79 431.85 L 608.41 431.85" fill="none" stroke="#1a1a1a" stroke-width="0.70" stroke-linecap="round" stroke-linejoin="round"/>
<path d="M 144.25 449.62 L 143.64 449.62 C 142.72 449.62 142.38 450.15 142.38 451.07 L 142.38 456.22 M 140.85 451.47 L 144.08 451.47 M 151.75 449.62 L 151.05 449.62 C 150.00 449.62 149.60 450.15 149.60 451.07 L 149.60 456.22 M 147.85 451.47 L 151.56 451.47" fill="none" stroke="#1a1a1a" stroke-width="1.30" stroke-linecap="round" stroke-linejoin="round"/>
<path d="M 212.12 472.68 L 215.01 479.47 L 217.90 472.68 L 220.79 479.47 L 223.67 472.68 M 226.12 472.68 L 228.94 479.47 L 231.75 472.68 L 234.56 479.47 L 237.38 472.68" fill="none" stroke="#1a1a1a" stroke-width="1.25" stroke-linecap="round" stroke-linejoin="round"/>
<path d="M 322.12 460.37 L 329.68 460.37 L 322.12 466.86 L 329.68 466.86 M 334.82 460.37 L 334.82 466.86 M 334.82 463.94 C 335.43 462.84 336.64 462.19 338.15 462.19 C 339.97 462.19 340.88 462.84 340.88 463.94 L 340.88 466.86" fill="none" stroke="#1a1a1a" stroke-width="1.25" stroke-linecap="round" stroke-linejoin="round"/>
<path d="M 335.12 478.52 L 335.12 484.10 C 335.12 484.84 335.56 485.17 336.19 485.17 L 337.08 485.17 M 333.92 480.38 L 336.76 480.38 M 342.94 478.52 L 342.94 484.10 C 342.94 484.84 343.42 485.17 344.11 485.17 L 345.08 485.17 M 341.62 480.38 L 344.73 480.38" fill="none" stroke="#1a1a1a" stroke-width="1.25" stroke-linecap="round" stroke-linejoin="round"/>
<path d="M 419.12 464.64 L 418.43 464.64 C 417.39 464.64 417.01 465.17 417.01 466.12 L 417.01 471.36 M 415.28 466.52 L 418.93 466.52 M 426.22 464.64 L 425.53 464.64 C 424.49 464.64 424.11 465.17 424.11 466.12 L 424.11 471.36 M 422.38 466.52 L 426.03 466.52" fill="none" stroke="#1a1a1a" stroke-width="1.15" stroke-linecap="round" stroke-linejoin="round"/>
<path d="M 531.02 442.22 L 533.86 448.86 L 536.70 442.22 L 539.54 448.86 L 542.38 442.22 M 545.23 442.22 L 548.09 448.86 L 550.95 442.22 L 553.81 448.86 L 556.68 442.22" fill="none" stroke="#1a1a1a" stroke-width="1.25" stroke-linecap="round" stroke-linejoin="round"/>
<path d="M 527.92 476.53 L 535.77 476.53 L 527.92 483.01 L 535.77 483.01 M 539.32 476.53 L 547.18 476.53 L 539.32 483.01 L 547.18 483.01" fill="none" stroke="#1a1a1a" stroke-width="1.25" stroke-linecap="round" stroke-linejoin="round"/>
<path d="M 664.32 481.91 L 672.77 481.91 L 664.32 488.40 L 672.77 488.40 M 677.52 481.91 L 677.52 488.40 M 677.52 485.48 C 678.13 484.38 679.34 483.73 680.85 483.73 C 682.67 483.73 683.58 484.38 683.58 485.48 L 683.58 488.40" fill="none" stroke="#1a1a1a" stroke-width="1.25" stroke-linecap="round" stroke-linejoin="round"/>
<path d="M 718.46 497.60 L 718.46 503.05 C 718.46 503.77 718.92 504.09 719.57 504.09 L 720.48 504.09 M 717.23 499.42 L 720.15 499.42 M 725.37 497.60 L 725.37 503.05 C 725.37 503.77 725.87 504.09 726.58 504.09 L 727.58 504.09 M 724.02 499.42 L 727.22 499.42" fill="none" stroke="#1a1a1a" stroke-width="1.25" stroke-linecap="round" stroke-linejoin="round"/>
<path d="M 694.92 530.83 L 694.92 537.32 M 694.92 534.40 C 695.59 533.30 696.92 532.65 698.58 532.65 C 700.58 532.65 701.58 533.30 701.58 534.40 L 701.58 537.32 M 706.62 530.83 L 706.62 537.32 M 706.62 534.40 C 707.28 533.30 708.59 532.65 710.23 532.65 C 712.19 532.65 713.18 533.30 713.18 534.40 L 713.18 537.32" fill="none" stroke="#1a1a1a" stroke-width="1.25" stroke-linecap="round" stroke-linejoin="round"/>
<g transform="scale(1,0.64615)"><path d="M 399.10 663.45 L 398.83 659.13 M 399.10 663.45 C 399.10 665.81 400.94 667.38 403.85 667.38 C 406.75 667.38 408.60 665.81 408.60 663.45 C 408.60 661.10 406.75 659.52 403.85 659.52 C 400.94 659.52 399.10 661.10 399.10 663.45 M 393.29 651.90 C 396.06 654.05 399.36 654.76 402.53 654.76 C 405.70 654.76 409.00 654.05 411.77 651.90 M 399.10 648.81 L 411.77 648.81 M 403.85 642.86 C 400.94 642.86 399.10 644.05 399.10 645.83 C 399.10 647.62 400.94 648.81 403.85 648.81 C 406.75 648.81 408.60 647.62 408.60 645.83 C 408.60 644.05 406.75 642.86 403.85 642.86 M 395.40 639.52 L 408.60 639.52 M 403.85 634.05 C 400.94 634.05 399.10 635.14 399.10 636.79 C 399.10 638.43 400.94 639.52 403.85 639.52 C 406.75 639.52 408.60 638.43 408.60 636.79 C 408.60 635.14 406.75 634.05 403.85 634.05 M 393.29 630.48 C 396.06 627.26 399.36 626.19 402.53 626.19 C 405.70 626.19 409.00 627.26 411.77 630.48" fill="none" stroke="#1a1a1a" stroke-width="1.25" stroke-linecap="round" stroke-linejoin="round"/></g>
<g transform="scale(1,0.64615)"><path d="M 24.50 663.45 L 24.23 659.13 M 24.50 663.45 C 24.50 665.81 26.34 667.38 29.25 667.38 C 32.15 667.38 34.00 665.81 34.00 663.45 C 34.00 661.10 32.15 659.52 29.25 659.52 C 26.34 659.52 24.50 661.10 24.50 663.45 M 18.69 651.90 C 21.46 654.05 24.76 654.76 27.93 654.76 C 31.10 654.76 34.40 654.05 37.17 651.90 M 24.50 648.81 L 37.17 648.81 M 29.25 642.86 C 26.34 642.86 24.50 644.05 24.50 645.83 C 24.50 647.62 26.34 648.81 29.25 648.81 C 32.15 648.81 34.00 647.62 34.00 645.83 C 34.00 644.05 32.15 642.86 29.25 642.86 M 20.80 639.52 L 34.00 639.52 M 29.25 634.05 C 26.34 634.05 24.50 635.14 24.50 636.79 C 24.50 638.43 26.34 639.52 29.25 639.52 C 32.15 639.52 34.00 638.43 34.00 636.79 C 34.00 635.14 32.15 634.05 29.25 634.05 M 18.69 630.48 C 21.46 627.26 24.76 626.19 27.93 626.19 C 31.10 626.19 34.40 627.26 37.17 630.48" fill="none" stroke="#1a1a1a" stroke-width="1.25" stroke-linecap="round" stroke-linejoin="round"/></g>
</g>
<path d="M82.90 364.55 H193.00" stroke="#9a50d0" stroke-width="0.60" stroke-opacity="0.35" fill="none"/>
<path d="M82.90 365.20 H207.00" stroke="#5c5cf6" stroke-width="1.25" stroke-opacity="0.85" fill="none"/>
<path d="M207.00 365.20 H236.00" stroke="#6e6e6e" stroke-width="1.25" stroke-opacity="0.90" fill="none"/>
<path d="M456.80 364.55 H492.50" stroke="#9a50d0" stroke-width="0.60" stroke-opacity="0.35" fill="none"/>
<path d="M456.80 365.20 H539.00" stroke="#5c5cf6" stroke-width="1.25" stroke-opacity="0.85" fill="none"/>
<path d="M539.00 365.20 H552.00" stroke="#6e6e6e" stroke-width="1.25" stroke-opacity="0.90" fill="none"/>
<path d="M545.60 365.20 H563.00" stroke="#5c5cf6" stroke-width="1.25" stroke-opacity="0.85" fill="none" stroke-dasharray="5 3.2"/>
</svg>
</body></html>
